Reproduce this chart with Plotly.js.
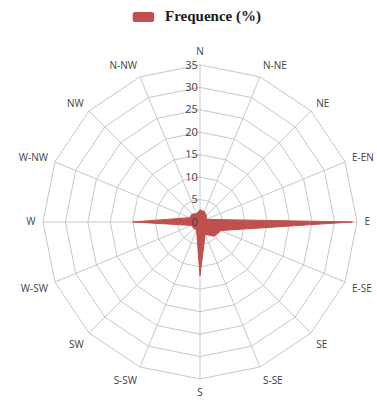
<!DOCTYPE html>
<html><head><meta charset="utf-8">
<script src="https://cdn.plot.ly/plotly-3.0.1.min.js"></script>
<style>html,body{margin:0;padding:0;background:#fff}#c{width:377px;height:401px}</style>
</head><body><div id="c"></div>
<script>
const directions = ["N","N-NE","NE","E-EN","E","E-SE","SE","S-SE","S","S-SW","SW","W-SW","W","W-NW","NW","N-NW"];
const frequence = [2.7,2.5,2,1.5,34,5,4.5,3,12,2,2,2,15,2.5,2.5,2];
const radialTicks = [0,5,10,15,20,25,30,35];
const seriesName = 'Frequence (%)';

const r = frequence.concat([frequence[0]]);
const theta = directions.concat([directions[0]]);

Plotly.newPlot('c', [{
  type: 'scatterpolar',
  r: r, theta: theta,
  mode: 'lines',
  fill: 'toself',
  fillcolor: '#C0504D',
  line: {color: '#C0504D', width: 1},
  name: seriesName,
  showlegend: false
}], {
  width: 377, height: 401,
  margin: {l: 0, r: 0, t: 0, b: 0},
  paper_bgcolor: '#fff',
  showlegend: false,
  shapes: [{
    type: 'path', xref: 'paper', yref: 'paper',
    path: 'M 0.358 0.970 L 0.402 0.970 Q 0.409 0.970 0.409 0.963 L 0.409 0.952 Q 0.409 0.945 0.402 0.945 L 0.358 0.945 Q 0.352 0.945 0.352 0.952 L 0.352 0.963 Q 0.352 0.970 0.358 0.970 Z',
    fillcolor: '#C0504D', line: {width: 0}
  }],
  annotations: [{
    xref: 'paper', yref: 'paper', x: 0.432, y: 0.958, xanchor: 'left', yanchor: 'middle',
    text: seriesName, showarrow: false,
    font: {family: 'Liberation Serif, serif', size: 15, color: '#1a1a1a', weight: 'bold'}
  }],
  polar: {
    domain: {x: [0.114, 0.947], y: [0.055, 0.838]},
    gridshape: 'linear',
    bgcolor: '#fff',
    angularaxis: {
      type: 'category',
      categoryarray: directions,
      rotation: 90, direction: 'clockwise',
      gridcolor: '#c8c8c8', linecolor: '#c8c8c8', linewidth: 1,
      ticks: 'outside', ticklen: 5, tickcolor: 'rgba(0,0,0,0)',
      tickfont: {family: 'Open Sans, sans-serif', size: 10, color: '#404040'}
    },
    radialaxis: {
      range: [0, 35], tickvals: radialTicks, ticktext: radialTicks.map(String),
      angle: 90, tickangle: 90, side: 'counterclockwise',
      showline: false, ticks: '',
      gridcolor: '#c8c8c8',
      tickfont: {family: 'Open Sans, sans-serif', size: 11, color: '#404040'}
    }
  }
}, {displayModeBar: false, staticPlot: true});
</script></body></html>
